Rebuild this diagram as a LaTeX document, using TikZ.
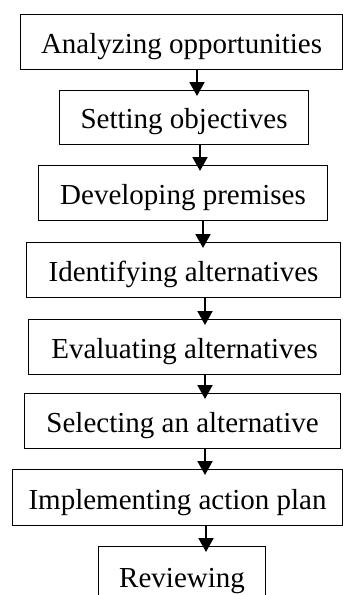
\documentclass[tikz,border=0pt]{standalone}
\usepackage{fontspec}
\setmainfont{Liberation Serif}
\usetikzlibrary{arrows.meta}
\begin{document}
\begin{tikzpicture}[x=1pt,y=1pt,
  stepbox/.style={draw=black, line width=1.1pt, inner sep=0pt, anchor=north west,
    font=\fontsize{29}{34}\selectfont, text depth=16pt},
  flow/.style={line width=2pt, -{Triangle[width=15pt,length=14pt]}}]
\useasboundingbox (0,0) rectangle (343,-595);
\clip (0,0) rectangle (343,-595);
\node[stepbox, minimum width=322pt, text height=39pt] (a) at (20,-14) {Analyzing opportunities};
\node[stepbox, minimum width=249pt, text height=38pt] (b) at (59,-90) {Setting objectives};
\node[stepbox, minimum width=289pt, text height=39pt] (c) at (38,-165) {Developing premises};
\node[stepbox, minimum width=314pt, text height=39pt] (d) at (26,-242) {Identifying alternatives};
\node[stepbox, minimum width=312pt, text height=39pt] (e) at (28,-319) {Evaluating alternatives};
\node[stepbox, minimum width=316pt, text height=39pt] (f) at (24,-393) {Selecting an alternative};
\node[stepbox, minimum width=330pt, text height=40pt] (g) at (12,-469) {Implementing action plan};
\node[stepbox, minimum width=167pt, text height=41pt, text depth=30pt] (h) at (98,-546) {Reviewing};
\coordinate (x1) at (197,0);
\coordinate (x2) at (200,0);
\coordinate (x3) at (203,0);
\coordinate (x4) at (205,0);
\coordinate (x5) at (205,0);
\coordinate (x6) at (205,0);
\coordinate (x7) at (206,0);
\draw[flow] (a.south -| x1) -- ([yshift=-6pt]b.north -| x1);
\draw[flow] (b.south -| x2) -- ([yshift=-6pt]c.north -| x2);
\draw[flow] (c.south -| x3) -- ([yshift=-6pt]d.north -| x3);
\draw[flow] (d.south -| x4) -- ([yshift=-6pt]e.north -| x4);
\draw[flow] (e.south -| x5) -- ([yshift=-6pt]f.north -| x5);
\draw[flow] (f.south -| x6) -- ([yshift=-6pt]g.north -| x6);
\draw[flow] (g.south -| x7) -- ([yshift=-6pt]h.north -| x7);
\end{tikzpicture}
\end{document}
